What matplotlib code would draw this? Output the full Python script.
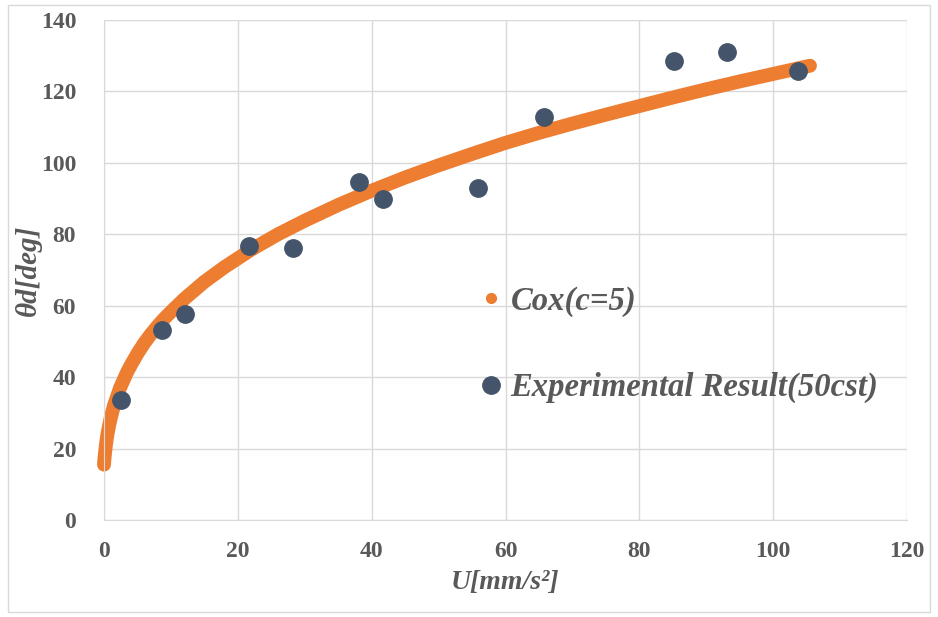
import matplotlib.pyplot as plt
from matplotlib.patches import Rectangle

# Curva Cox(c=5)
cox_u = [0, 0.05, 0.1, 0.2, 0.3, 0.45, 0.6, 0.8, 1.0, 1.5, 2.0, 2.4, 3.0, 3.5, 4.2, 5, 6, 7, 8,
         9, 10.5, 12, 15, 18, 22, 26, 30, 35, 40, 45, 50, 55, 60, 65, 70, 75, 80, 85,
         90, 95, 100, 105.5]
cox_theta = [15.5, 16.8, 17.8, 19.6, 21.2, 23.2, 24.9, 26.8, 28.5, 32.1, 34.8, 37.0, 39.5,
             41.6, 44.0, 46.6, 49.5, 52.0, 54.3, 56.4, 59.2, 61.9, 66.7, 70.8, 75.7,
             80.0, 83.8, 88.2, 92.2, 95.9, 99.3, 102.5, 105.6, 108.4, 111.0, 113.5,
             115.9, 118.3, 120.6, 122.8, 124.9, 127.2]

# Resultado experimental (50cst)
exp_u = [2.5, 8.7, 12.1, 21.7, 28.3, 38.1, 41.7, 55.9, 65.8, 85.2, 93.1, 103.7]
exp_theta = [33.6, 53.2, 57.7, 76.7, 76.2, 94.7, 89.9, 93.0, 112.9, 128.5, 131.1, 125.7]

laranja = "#ED7D31"
azul = "#44546A"
cinza = "#595959"

plt.rcParams['font.family'] = ['Liberation Serif', 'DejaVu Serif']

fig = plt.figure(figsize=(9.38, 6.17), dpi=100)
ax = fig.add_axes([104/938, 1-520/617, (907-104)/938, 500/617])

ax.plot(cox_u, cox_theta, color=laranja, lw=10, solid_capstyle='round',
        solid_joinstyle='round', zorder=2, clip_on=False)
ax.plot([], [], 'o', color=laranja, ms=7, label="Cox(c=5)")
ax.plot(exp_u, exp_theta, 'o', color=azul, ms=12.5, ls='none', zorder=3,
        label="Experimental Result(50cst)")

ax.set_xlim(0, 120)
ax.set_ylim(0, 140)
ax.set_xticks(range(0, 121, 20))
ax.set_yticks(range(0, 141, 20))
ax.grid(True, color="#D9D9D9", lw=1)
ax.set_axisbelow(True)
for s in ["top", "right"]:
    ax.spines[s].set_visible(False)
for s in ["left", "bottom"]:
    ax.spines[s].set_color("#D9D9D9")
ax.tick_params(length=0, colors=cinza, labelsize=17)
ax.tick_params(axis='y', pad=20)
ax.tick_params(axis='x', pad=15)
for lb in ax.get_xticklabels() + ax.get_yticklabels():
    lb.set_fontweight('bold')

ax.set_xlabel("U[mm/s²]", fontsize=20, fontweight='bold', style='italic', color=cinza, labelpad=6)
ax.set_ylabel("θd[deg]", fontsize=21, fontweight='bold', style='italic', color=cinza)
ax.yaxis.set_label_coords(-0.077, 0.5)

leg = ax.legend(loc='upper left', bbox_to_anchor=(0.425, 0.528), frameon=False,
                prop={'size': 23.5, 'weight': 'bold', 'style': 'italic'},
                labelspacing=1.7, handletextpad=0.1, handlelength=1.0)
for t in leg.get_texts():
    t.set_color(cinza)

fig.patches.append(Rectangle((8/938, 1-612/617), 922/938, 607/617, transform=fig.transFigure,
                             fill=False, edgecolor="#D9D9D9", lw=1))

plt.savefig("out.png")
